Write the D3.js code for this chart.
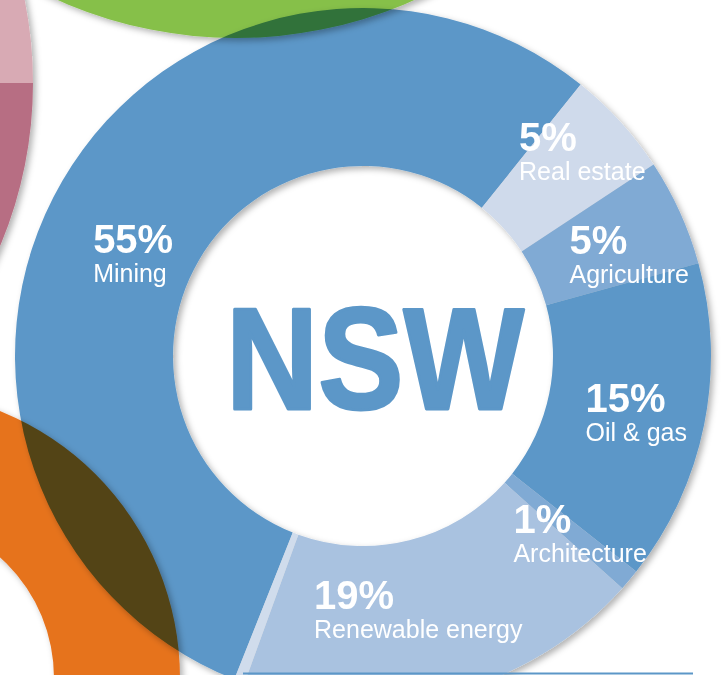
<!DOCTYPE html>
<html>
<head>
<meta charset="utf-8">
<script src="https://cdn.jsdelivr.net/npm/d3@7"></script>
<style>
  html, body { margin: 0; padding: 0; background: #fff; }
  svg { display: block; }
  .blend { mix-blend-mode: multiply; }
</style>
</head>
<body>
<script>
// NSW industry share donut (the neighbouring donuts are only decoration)
var w = 723, h = 675;

var categories = ["Mining", "Real estate", "Agriculture", "Oil & gas", "Architecture", "Renewable energy", ""];
var shares = [55, 5, 5, 15, 1, 19, 0.5];   // last one is the thin unlabelled sliver
var shareLabels = ["55%", "5%", "5%", "15%", "1%", "19%", ""];
var sliceColors = ["#5c97c8", "#cfdaeb", "#80aad4", "#5c97c8", "#80aad4", "#a9c2e0", "#d0dcec"];

var deg = Math.PI / 180;

var svg = d3.select("body").append("svg")
    .attr("width", w)
    .attr("height", h);

var defs = svg.append("defs");
defs.append("filter")
    .attr("id", "shadow")
    .attr("x", "-20%").attr("y", "-20%")
    .attr("width", "140%").attr("height", "140%")
  .append("feDropShadow")
    .attr("dx", 3).attr("dy", 3)
    .attr("stdDeviation", 3)
    .attr("flood-color", "#000")
    .attr("flood-opacity", 0.3);

// --- decoration: bits of other donuts poking in from the edges ---
var ring = d3.arc();

// pink one on the left
var pink = svg.append("g").attr("class", "blend").attr("filter", "url(#shadow)")
    .attr("transform", "translate(-387,83)");
pink.append("path")
    .attr("d", ring({innerRadius: 300, outerRadius: 420, startAngle: 0, endAngle: 90 * deg}))
    .attr("fill", "#d8aab4");
pink.append("path")
    .attr("d", ring({innerRadius: 300, outerRadius: 420, startAngle: 90 * deg, endAngle: 180 * deg}))
    .attr("fill", "#b76e83");

// green one on top
svg.append("g").attr("class", "blend").attr("filter", "url(#shadow)")
    .attr("transform", "translate(236,-400)")
  .append("path")
    .attr("d", ring({innerRadius: 300, outerRadius: 438, startAngle: 0, endAngle: 2 * Math.PI}))
    .attr("fill", "#86c04a");

// orange one bottom left
svg.append("g").attr("class", "blend").attr("filter", "url(#shadow)")
    .attr("transform", "translate(-108,678)")
  .append("path")
    .attr("d", ring({innerRadius: 162, outerRadius: 288, startAngle: 0, endAngle: 2 * Math.PI}))
    .attr("fill", "#e6731f");

// --- main NSW donut ---
var cx = 363, cy = 356;
var rInner = 190, rOuter = 348;
var start = 201.7 * deg;

var pie = d3.pie()
    .sort(null)
    .value(function(d) { return d; })
    .startAngle(start)
    .endAngle(start + 2 * Math.PI);

var arcs = pie(shares);

var arc = d3.arc()
    .innerRadius(rInner)
    .outerRadius(rOuter);

var donut = svg.append("g")
    .attr("class", "blend")
    .attr("filter", "url(#shadow)")
    .attr("transform", "translate(" + cx + "," + cy + ")");

donut.selectAll("path.slice")
    .data(arcs)
    .enter()
    .append("path")
    .attr("class", "slice")
    .attr("d", arc)
    .attr("fill", function(d, i) { return sliceColors[i]; });

// centre word, a bit of stroke to get the heavy condensed look
svg.append("text")
    .attr("x", cx + 12)
    .attr("y", cy + 53)
    .attr("text-anchor", "middle")
    .attr("font-family", "Liberation Sans, Arial, sans-serif")
    .attr("font-weight", "bold")
    .attr("font-size", "144px")
    .attr("textLength", 298)
    .attr("lengthAdjust", "spacingAndGlyphs")
    .attr("fill", "#5c97c8")
    .attr("stroke", "#5c97c8")
    .attr("stroke-width", 3)
    .attr("stroke-linejoin", "round")
    .text("NSW");

// label placement: radius and small angle nudge off each slice's mid angle
var labelNudge = {
    "Mining": [252, -6],
    "Real estate": [300, -0.7],
    "Agriculture": [285, 3.5],
    "Oil & gas": [279, 0.2],
    "Architecture": [280, -0.9],
    "Renewable energy": [259, 1.8]
};

var labels = svg.append("g")
    .attr("transform", "translate(" + cx + "," + cy + ")");

arcs.forEach(function(d, i) {
    var name = categories[i];
    if (!name) return;
    var nudge = labelNudge[name];
    var a = (d.startAngle + d.endAngle) / 2 + nudge[1] * deg;
    var x = Math.sin(a) * nudge[0];
    var y = -Math.cos(a) * nudge[0];

    var g = labels.append("g").attr("transform", "translate(" + x + "," + y + ")");
    var pct = g.append("text")
        .attr("font-family", "Liberation Sans, Arial, sans-serif")
        .attr("font-weight", "bold")
        .attr("font-size", "40px")
        .attr("fill", "#fff")
        .text(shareLabels[i]);
    var lab = g.append("text")
        .attr("y", 29)
        .attr("font-family", "Liberation Sans, Arial, sans-serif")
        .attr("font-size", "25px")
        .attr("fill", "#fff")
        .text(name);
    var bw = Math.max(pct.node().getComputedTextLength(), lab.node().getComputedTextLength());
    pct.attr("x", -bw / 2);
    lab.attr("x", -bw / 2);
});

// rule along the bottom
svg.append("line")
    .attr("x1", 243).attr("x2", 693)
    .attr("y1", 673.5).attr("y2", 673.5)
    .attr("stroke", "#5c97c8")
    .attr("stroke-width", 2);
</script>
</body>
</html>
